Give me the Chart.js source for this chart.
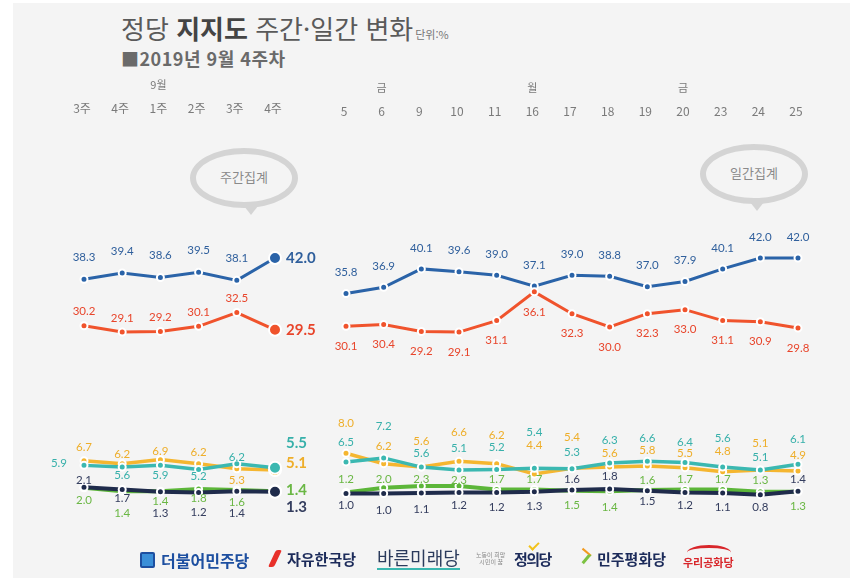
<!DOCTYPE html>
<html lang="ko">
<head>
<meta charset="utf-8">
<script src="https://cdn.jsdelivr.net/npm/chart.js@4.4.1/dist/chart.umd.min.js"></script>
<style>
  html, body { margin: 0; padding: 0; background: #fff; }
  #wrap { position: relative; width: 850px; height: 578px; overflow: hidden; background: #fff; }
  #panel { position: absolute; left: 13px; top: 3px; width: 837px; height: 575px; background: #f4f4f4; }
  canvas { position: absolute; left: 0; top: 0; }
  .kr { font-family: "Noto Sans CJK KR", "Noto Sans", sans-serif; }
  #title { position: absolute; left: 121px; top: 9px; font-size: 26px; color: #5a5a5a; white-space: nowrap; }
  #title b { color: #444; font-weight: 700; }
  #title small { font-size: 11px; color: #777; margin-left: 2px; }
  #sub { position: absolute; left: 121px; top: 45px; font-size: 18px; font-weight: 700; color: #6a6a6a; white-space: nowrap; letter-spacing: 0.5px; }
  .bubble { position: absolute; width: 96px; height: 48px; border: 6px solid #d4d4d4; border-radius: 50%; background: #f4f4f4; }
  .bubble span { position: absolute; left: 0; right: 0; top: 13px; text-align: center; font-size: 13px; color: #8a8a8a; }
  .tip { position: absolute; width: 0; height: 0; border-left: 7px solid transparent; border-right: 7px solid transparent; border-top: 9px solid #d4d4d4; }
  #legend { position: absolute; left: 0; top: 548px; width: 850px; height: 30px; }
  #legend div { position: absolute; white-space: nowrap; }
</style>
</head>
<body>
<div id="wrap">
  <div id="panel"></div>
  <div id="title" class="kr">정당 <b>지지도</b> 주간·일간 변화<small>단위:%</small></div>
  <div id="sub" class="kr">■2019년 9월 4주차</div>

  <div class="bubble kr" style="left:190px; top:148px;"><span>주간집계</span></div>
  <div class="tip" style="left:244px; top:206px;"></div>
  <div class="bubble kr" style="left:700px; top:144px;"><span>일간집계</span></div>
  <div class="tip" style="left:750px; top:202px;"></div>

  <canvas id="weekChart" width="850" height="578"></canvas>
  <canvas id="dayChart" width="850" height="578"></canvas>

  <div id="legend" class="kr">
    <div style="left:140px; top:4px; width:11px; height:12px; border:2px solid #1d4fa0; border-radius:2px; background:#3a8fd8;"></div>
    <div style="left:161px; top:0; font-size:16px; font-weight:700; color:#1d4fa0;">더불어민주당</div>
    <div style="left:272px; top:2px; width:6px; height:17px; background:#e8302a; transform:skew(-25deg); border-radius:2px;"></div>
    <div style="left:287px; top:0; font-size:15px; font-weight:700; color:#1c2b5a;">자유한국당</div>
    <div style="left:377px; top:-1px; font-size:18px; color:#2b3b5c; border-bottom:2px solid #3ab7b0; line-height:21px;">바른미래당</div>
    <div style="left:476px; top:3px; font-size:6px; color:#888; line-height:7px;">노동이 희망<br>&nbsp;&nbsp;시민이 꿈</div>
    <div style="left:514px; top:0; font-size:15px; font-weight:700; color:#1c2b5a; letter-spacing:-1.5px;">정의당</div>
    <div style="left:529px; top:-6px; width:8px; height:4px; border-left:2px solid #f2c21a; border-bottom:2px solid #f2c21a; transform:rotate(-45deg);"></div>
    <div style="left:578px; top:2px; width:8px; height:10px; border-right:3px solid #7cc242; border-top:2px solid #f29a1e; transform:rotate(40deg);"></div>
    <div style="left:597px; top:0; font-size:15px; font-weight:700; color:#1c2b5a;">민주평화당</div>
    <div style="left:687px; top:-3px; width:44px; height:12px; border-top:3px solid #d8262a; border-radius:50% 50% 0 0;"></div>
    <div style="left:683px; top:6px; font-size:11px; font-weight:700; color:#d8262a;">우리공화당</div>
  </div>
</div>

<script>
// axis labels
const weekLabels = ['3주', '4주', '1주', '2주', '3주', '4주'];
const weekMonth = ['', '', '9월', '', '', ''];
const dayLabels = ['5', '6', '9', '10', '11', '16', '17', '18', '19', '20', '23', '24', '25'];
const dayWeekday = ['', '금', '', '', '', '월', '', '', '', '금', '', '', ''];

// weekly results (%)
const minjooWeek = [38.3, 39.4, 38.6, 39.5, 38.1, 42.0];
const hankukWeek = [30.2, 29.1, 29.2, 30.1, 32.5, 29.5];
const bareunWeek = [5.9, 5.6, 5.9, 5.2, 6.2, 5.5];
const justiceWeek = [6.7, 6.2, 6.9, 6.2, 5.3, 5.1];
const peaceWeek = [2.0, 1.4, 1.4, 1.8, 1.6, 1.4];
const republicWeek = [2.1, 1.7, 1.3, 1.2, 1.4, 1.3];

// daily results (%)
const minjooDay = [35.8, 36.9, 40.1, 39.6, 39.0, 37.1, 39.0, 38.8, 37.0, 37.9, 40.1, 42.0, 42.0];
const hankukDay = [30.1, 30.4, 29.2, 29.1, 31.1, 36.1, 32.3, 30.0, 32.3, 33.0, 31.1, 30.9, 29.8];
const bareunDay = [6.5, 7.2, 5.6, 5.1, 5.2, 5.4, 5.3, 6.3, 6.6, 6.4, 5.6, 5.1, 6.1];
const justiceDay = [8.0, 6.2, 5.6, 6.6, 6.2, 4.4, 5.4, 5.6, 5.8, 5.5, 4.8, 5.1, 4.9];
const peaceDay = [1.2, 2.0, 2.3, 2.3, 1.7, 1.7, 1.5, 1.4, 1.6, 1.7, 1.7, 1.3, 1.3];
const republicDay = [1.0, 1.0, 1.1, 1.2, 1.2, 1.3, 1.6, 1.8, 1.5, 1.2, 1.1, 0.8, 1.4];

const colors = {
     minjoo: { line: '#2a63a8', text: '#2f5f9c' },
     hankuk: { line: '#f0532c', text: '#e8452b' },
     bareun: { line: '#3bb8b1', text: '#37b0aa' },
     justice: { line: '#f5b630', text: '#eeae2a' },
     peace: { line: '#5cb639', text: '#6ab744' },
     republic: { line: '#1f2b4b', text: '#343d5e' }
};

const numFont = 'Lato, "Noto Sans", sans-serif';

// value labels: offset of each label from its point (pixels)
const weekOffsets = {
     minjoo: { dy: [-22, -22, -22, -22, -22, 0], dx: [0, 0, 0, 0, 0, 11] },
     hankuk: { dy: [-14, -14, -14, -14, -14, 0], dx: [0, 0, 0, 0, 0, 11] },
     bareun: { dy: [-2, 8, 10, 7, -6, -25], dx: [-17, 0, 0, 0, 0, 11] },
     justice: { dy: [-13, -9, -8, -11, 11, -7], dx: [0, 0, 0, 0, 0, 11] },
     peace: { dy: [13, 22, 10, 9, 12, -1], dx: [0, 0, 0, 0, 0, 11] },
     republic: { dy: [-7, 9, 21, 20, 22, 15], dx: [0, 0, 0, 0, 0, 11] }
};
const dayOffsets = {
     minjoo: { dy: Array(13).fill(-21) },
     hankuk: { dy: Array(13).fill(20) },
     bareun: { dy: [-20, -32, -14, -22, -22, -36, -17, -23, -23, -20, -29, -13, -25] },
     justice: { dy: [-30, -17, -26, -29, -28, -29, -31, -14, -16, -14, -20, -27, -16] },
     peace: { dy: [-13, -8, -7, -6, -10, -10, 15, 16, -10, -10, -10, -12, 14] },
     republic: { dy: [12, 17, 16, 13, 15, 14, -11, -13, 11, 13, 14, 13, -12] }
};

function makeDataset(key, values, offsets, width, bigLast) {
     const n = values.length;
     return {
          data: values,
          borderColor: colors[key].line,
          borderWidth: width,
          backgroundColor: colors[key].line,
          pointBackgroundColor: colors[key].line,
          pointBorderColor: '#ffffff',
          pointBorderWidth: 2,
          pointRadius: values.map((v, i) => (bigLast && i === n - 1) ? 6 : 3.5),
          tension: 0,
          labelColor: colors[key].text,
          labelDy: offsets.dy,
          labelDx: offsets.dx || Array(n).fill(0),
          labelBoldLast: bigLast
     };
}

// draws the value text next to each point
const valueLabels = {
     id: 'valueLabels',
     afterDatasetsDraw(chart) {
          const ctx = chart.ctx;
          ctx.save();
          ctx.textBaseline = 'middle';
          chart.data.datasets.forEach((ds, di) => {
               const meta = chart.getDatasetMeta(di);
               meta.data.forEach((pt, i) => {
                    const last = ds.labelBoldLast && i === ds.data.length - 1;
                    const dx = ds.labelDx[i];
                    ctx.fillStyle = ds.labelColor;
                    ctx.font = last ? `bold 15px ${numFont}` : `11.5px ${numFont}`;
                    ctx.textAlign = dx > 0 ? 'left' : (dx < 0 ? 'right' : 'center');
                    ctx.fillText(ds.data[i].toFixed(1), pt.x + dx, pt.y + ds.labelDy[i]);
               });
          });
          ctx.restore();
     }
};

// category names above the plot, placed with the x scale
const topTicks = {
     id: 'topTicks',
     afterDraw(chart, args, opts) {
          const ctx = chart.ctx;
          const xs = chart.scales.x;
          ctx.save();
          ctx.textAlign = 'center';
          ctx.textBaseline = 'middle';
          ctx.fillStyle = '#7a7a7a';
          chart.data.labels.forEach((lab, i) => {
               const x = xs.getPixelForValue(i) - 2;
               ctx.font = `12px "Noto Sans CJK KR", ${numFont}`;
               ctx.fillText(lab, x, opts.labelY);
               if (opts.upper[i]) {
                    ctx.font = '11px "Noto Sans CJK KR", sans-serif';
                    ctx.fillText(opts.upper[i], x, opts.upperY);
               }
          });
          ctx.restore();
     }
};

function buildChart(canvasId, labels, sets, padding, upper, labelY, upperY) {
     const ctx = document.getElementById(canvasId).getContext('2d');
     return new Chart(ctx, {
          type: 'line',
          data: { labels: labels, datasets: sets },
          options: {
               responsive: false,
               animation: false,
               events: [],
               layout: { padding: padding },
               plugins: {
                    legend: { display: false },
                    tooltip: { enabled: false },
                    topTicks: { upper: upper, labelY: labelY, upperY: upperY }
               },
               scales: {
                    x: { display: false },
                    y: { display: false, min: -5, max: 50 }
               }
          },
          plugins: [valueLabels, topTicks]
     });
}

// first dataset is drawn on top
buildChart('weekChart', weekLabels, [
     makeDataset('republic', republicWeek, weekOffsets.republic, 4, true),
     makeDataset('peace', peaceWeek, weekOffsets.peace, 4, true),
     makeDataset('bareun', bareunWeek, weekOffsets.bareun, 3.5, true),
     makeDataset('justice', justiceWeek, weekOffsets.justice, 3.5, true),
     makeDataset('hankuk', hankukWeek, weekOffsets.hankuk, 3, true),
     makeDataset('minjoo', minjooWeek, weekOffsets.minjoo, 3, true)
], { left: 84, right: 575, top: 212, bottom: 50 }, weekMonth, 108, 85);

buildChart('dayChart', dayLabels, [
     makeDataset('republic', republicDay, dayOffsets.republic, 4, false),
     makeDataset('peace', peaceDay, dayOffsets.peace, 4, false),
     makeDataset('bareun', bareunDay, dayOffsets.bareun, 3.5, false),
     makeDataset('justice', justiceDay, dayOffsets.justice, 3.5, false),
     makeDataset('hankuk', hankukDay, dayOffsets.hankuk, 3, false),
     makeDataset('minjoo', minjooDay, dayOffsets.minjoo, 3, false)
], { left: 346, right: 52, top: 212, bottom: 50 }, dayWeekday, 111, 88);
</script>
</body>
</html>
